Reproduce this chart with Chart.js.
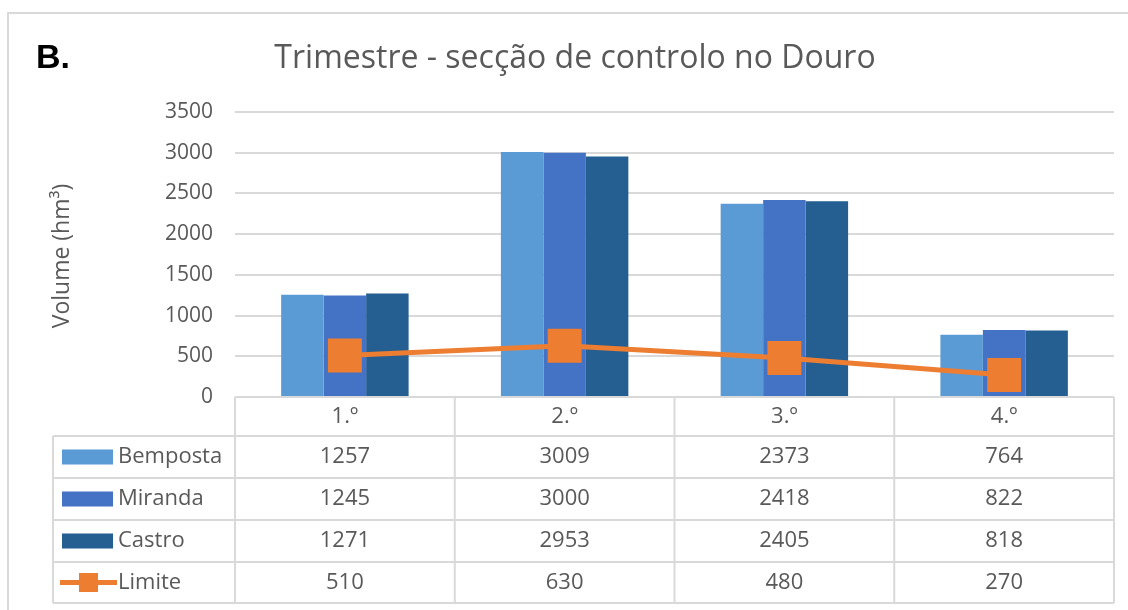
<!DOCTYPE html>
<html>
<head>
<meta charset="utf-8">
<script src="https://cdn.jsdelivr.net/npm/chart.js@4/dist/chart.umd.min.js"></script>
<style>
html,body{margin:0;padding:0;background:#fff;}
canvas{display:block;}
</style>
</head>
<body>
<canvas id="c" width="1128" height="610"></canvas>
<script>
const categories = ["1.º", "2.º", "3.º", "4.º"];
const bemposta = [1257, 3009, 2373, 764];
const miranda = [1245, 3000, 2418, 822];
const castro = [1271, 2953, 2405, 818];
const limite = [510, 630, 480, 270];
const seriesNames = ["Bemposta", "Miranda", "Castro", "Limite"];
const yTicks = [0, 500, 1000, 1500, 2000, 2500, 3000, 3500];
const titleText = "Trimestre - secção de controlo no Douro";
const panelLabel = "B.";
const yAxisTitle = "Volume (hm³)";

const COLORS = ["#5B9BD5", "#4472C4", "#255E91", "#ED7D31"];
const TEXT = "#595959";
const GRID = "#D9D9D9";
const FONT = "'Open Sans', 'Noto Sans', sans-serif";

const tablePlugin = {
  id: "tablePlugin",
  afterDraw(chart) {
    const ctx = chart.ctx;
    const ca = chart.chartArea;
    const n = categories.length;
    const colW = (ca.right - ca.left) / n;
    const labelLeft = 53;
    const headerTop = ca.bottom;
    const rowTops = [436, 478, 520, 562];
    const bottom = 603;
    ctx.save();
    // outer frame
    ctx.strokeStyle = GRID;
    ctx.lineWidth = 2;
    ctx.beginPath();
    ctx.moveTo(1128, 13); ctx.lineTo(8, 13); ctx.lineTo(8, 610);
    ctx.stroke();

    // panel label & title
    ctx.fillStyle = "#000";
    ctx.font = "bold 34px 'Liberation Sans', Arial, sans-serif";
    ctx.textBaseline = "alphabetic";
    ctx.textAlign = "left";
    ctx.fillText(panelLabel, 36, 68);
    ctx.fillStyle = TEXT;
    ctx.font = "32px " + FONT;
    ctx.textAlign = "center";
    ctx.fillText(titleText, 575, 68);

    // y axis title
    ctx.save();
    ctx.translate(62, 256);
    ctx.rotate(-Math.PI / 2);
    ctx.font = "23px " + FONT;
    ctx.textAlign = "center";
    ctx.textBaseline = "middle";
    ctx.fillText(yAxisTitle, 0, 0);
    ctx.restore();

    // table grid lines
    ctx.strokeStyle = GRID;
    ctx.lineWidth = 2;
    ctx.beginPath();
    ctx.moveTo(ca.left, headerTop); ctx.lineTo(ca.right, headerTop);
    rowTops.forEach(t => { ctx.moveTo(labelLeft, t); ctx.lineTo(ca.right, t); });
    ctx.moveTo(labelLeft, bottom); ctx.lineTo(ca.right, bottom);
    ctx.moveTo(labelLeft, rowTops[0]); ctx.lineTo(labelLeft, bottom);
    for (let i = 0; i <= n; i++) {
      const x = ca.left + i * colW;
      ctx.moveTo(x, headerTop); ctx.lineTo(x, bottom);
    }
    ctx.stroke();

    // header texts
    ctx.fillStyle = TEXT;
    ctx.font = "22px " + FONT;
    ctx.textAlign = "center";
    ctx.textBaseline = "middle";
    categories.forEach((c, i) => {
      ctx.fillText(c, ca.left + (i + 0.5) * colW, (headerTop + rowTops[0]) / 2);
    });

    // rows
    const data = chart.data.datasets.map(d => d.data);
    const rowBottoms = rowTops.slice(1).concat([bottom]);
    seriesNames.forEach((name, r) => {
      const cy = (rowTops[r] + rowBottoms[r]) / 2;
      if (r < 3) {
        ctx.fillStyle = COLORS[r];
        ctx.fillRect(62, cy - 7.5, 51, 15);
      } else {
        ctx.strokeStyle = COLORS[3];
        ctx.lineWidth = 5;
        ctx.beginPath();
        ctx.moveTo(60, cy); ctx.lineTo(117, cy);
        ctx.stroke();
        ctx.fillStyle = COLORS[3];
        ctx.fillRect(79, cy - 9.5, 19, 19);
      }
      ctx.fillStyle = TEXT;
      ctx.textAlign = "left";
      ctx.fillText(name, 118, cy);
      ctx.textAlign = "center";
      data[r].forEach((v, i) => {
        ctx.fillText(String(v), ca.left + (i + 0.5) * colW, cy);
      });
    });
    ctx.restore();
  }
};

new Chart(document.getElementById("c"), {
  type: "bar",
  data: {
    labels: categories,
    datasets: [
      { label: seriesNames[0], data: bemposta, backgroundColor: COLORS[0], order: 1 },
      { label: seriesNames[1], data: miranda, backgroundColor: COLORS[1], order: 1 },
      { label: seriesNames[2], data: castro, backgroundColor: COLORS[2], order: 1 },
      { label: seriesNames[3], data: limite, type: "line", borderColor: COLORS[3], borderWidth: 5,
        pointStyle: "rect", pointRadius: 24, pointHoverRadius: 24, pointBackgroundColor: COLORS[3],
        pointBorderWidth: 0, backgroundColor: COLORS[3], order: 0, tension: 0 }
    ]
  },
  options: {
    responsive: false,
    devicePixelRatio: 1,
    animation: false,
    layout: { autoPadding: false, padding: { left: 0, top: 112, right: 14, bottom: 213 } },
    datasets: { bar: { categoryPercentage: 0.58, barPercentage: 1.0 } },
    plugins: { legend: { display: false }, tooltip: { enabled: false }, title: { display: false } },
    scales: {
      x: { display: false, offset: true },
      y: {
        min: 0, max: 3500,
        afterFit(scale) { scale.width = 235; },
        afterBuildTicks(scale) { scale.ticks = yTicks.map(v => ({ value: v })); },
        border: { display: false },
        grid: { color: GRID, lineWidth: 2, drawTicks: false },
        ticks: { color: TEXT, font: { family: FONT, size: 21 }, padding: 22, callback: v => String(v) }
      }
    }
  },
  plugins: [tablePlugin]
});
</script>
</body>
</html>
